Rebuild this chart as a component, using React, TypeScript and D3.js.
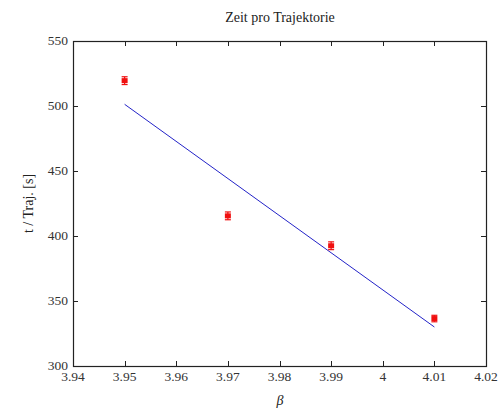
import React, { useEffect, useRef } from 'react';
import * as d3 from 'd3';

// measured time per trajectory vs beta
const betas = [3.95, 3.97, 3.99, 4.01];
const times = [519.5, 415.5, 392.5, 336.5];
const errors = [3, 3, 3, 2.5];

// linear fit (end points)
const fitBetas = [3.95, 4.01];
const fitTimes = [501.3, 330];

const xTicks = [3.94, 3.95, 3.96, 3.97, 3.98, 3.99, 4, 4.01, 4.02];
const yTicks = [300, 350, 400, 450, 500, 550];

export default function App() {
  const ref = useRef<SVGSVGElement>(null);

  useEffect(() => {
    const svg = d3.select(ref.current);
    svg.selectAll('*').remove();

    const left = 73, right = 486, top = 41, bottom = 366;
    const font = '"Liberation Serif", "DejaVu Serif", serif';

    const x = d3.scaleLinear().domain([3.94, 4.02]).range([left, right]);
    const y = d3.scaleLinear().domain([300, 550]).range([bottom, top]);

    svg.append('rect').attr('width', 500).attr('height', 412).attr('fill', '#fff');

    const tick = 5;
    const g = svg.append('g').attr('stroke', '#222').attr('stroke-width', 1);
    xTicks.forEach((t) => {
      const px = Math.round(x(t)) + 0.5;
      g.append('line').attr('x1', px).attr('x2', px).attr('y1', bottom).attr('y2', bottom - tick);
      g.append('line').attr('x1', px).attr('x2', px).attr('y1', top).attr('y2', top + tick);
    });
    yTicks.forEach((t) => {
      const py = Math.round(y(t)) + 0.5;
      g.append('line').attr('x1', left).attr('x2', left + tick).attr('y1', py).attr('y2', py);
      g.append('line').attr('x1', right).attr('x2', right - tick).attr('y1', py).attr('y2', py);
    });

    svg.append('rect')
      .attr('x', left + 0.5).attr('y', top + 0.5)
      .attr('width', right - left).attr('height', bottom - top)
      .attr('fill', 'none').attr('stroke', '#222').attr('stroke-width', 1.2);

    // tick labels
    svg.append('g').selectAll('text').data(xTicks).enter().append('text')
      .attr('x', (d) => x(d)).attr('y', bottom + 15)
      .attr('text-anchor', 'middle')
      .attr('font-family', font).attr('font-size', 13.5).attr('fill', '#333')
      .text((d) => d3.format('')(d));

    svg.append('g').selectAll('text').data(yTicks).enter().append('text')
      .attr('x', left - 5).attr('y', (d) => y(d) + 4)
      .attr('text-anchor', 'end')
      .attr('font-family', font).attr('font-size', 13.5).attr('fill', '#333')
      .text((d) => String(d));

    // fit line
    const line = d3.line<number>().x((d, i) => x(fitBetas[i])).y((d) => y(d));
    svg.append('path').datum(fitTimes).attr('d', line)
      .attr('fill', 'none').attr('stroke', '#2323c8').attr('stroke-width', 1);

    // data points with error bars
    const pts = svg.append('g').attr('fill', '#f01010').attr('stroke', '#f01010');
    betas.forEach((b, i) => {
      const cx = x(b);
      const y0 = y(times[i] - errors[i]);
      const y1 = y(times[i] + errors[i]);
      pts.append('line').attr('x1', cx).attr('x2', cx).attr('y1', y0).attr('y2', y1).attr('stroke-width', 1.2);
      pts.append('line').attr('x1', cx - 3).attr('x2', cx + 3).attr('y1', y0).attr('y2', y0).attr('stroke-width', 1.2);
      pts.append('line').attr('x1', cx - 3).attr('x2', cx + 3).attr('y1', y1).attr('y2', y1).attr('stroke-width', 1.2);
      pts.append('rect').attr('x', cx - 3).attr('y', y(times[i]) - 2.5)
        .attr('width', 6).attr('height', 5).attr('stroke', 'none');
    });

    svg.append('text').attr('x', 280).attr('y', 22).attr('text-anchor', 'middle')
      .attr('font-family', font).attr('font-size', 14).attr('fill', '#222')
      .text('Zeit pro Trajektorie');

    svg.append('text').attr('x', 280).attr('y', 405).attr('text-anchor', 'middle')
      .attr('font-family', font).attr('font-size', 14).attr('font-style', 'italic').attr('fill', '#222')
      .text('β');

    svg.append('text')
      .attr('transform', `translate(33, ${(top + bottom) / 2}) rotate(-90)`)
      .attr('text-anchor', 'middle')
      .attr('font-family', font).attr('font-size', 14).attr('fill', '#222')
      .text('t / Traj. [s]');
  }, []);

  return (
    <div style={{ position: 'fixed', left: 0, top: 0, width: 500, height: 412, overflow: 'hidden' }}>
      <svg ref={ref} width={500} height={412} style={{ display: 'block', overflow: 'visible' }} />
    </div>
  );
}
